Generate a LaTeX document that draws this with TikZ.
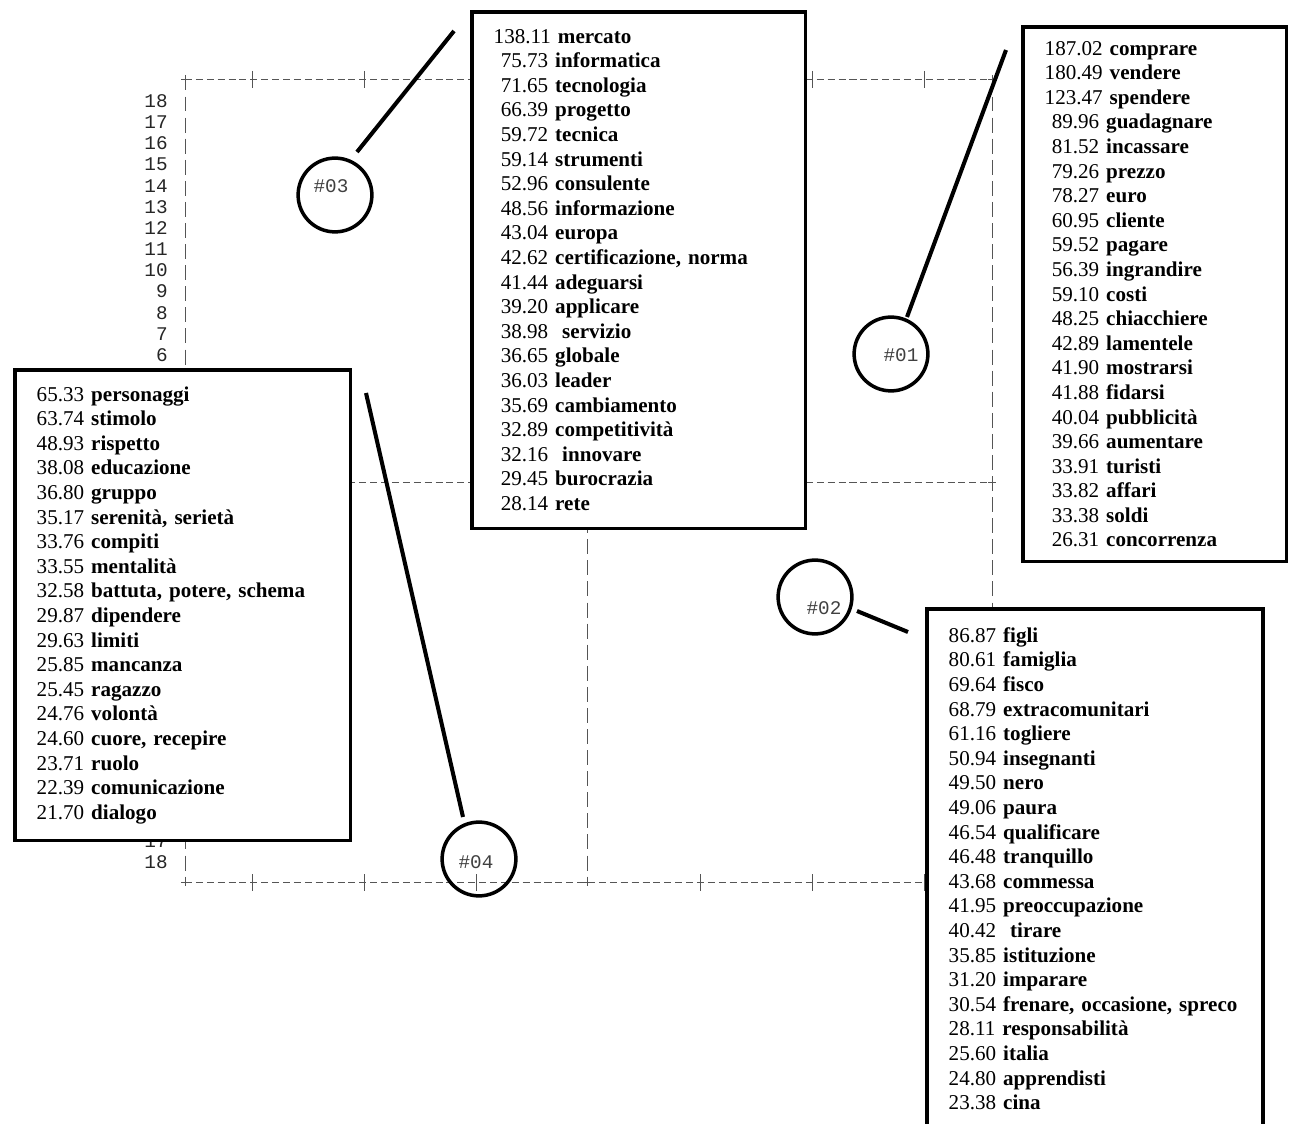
\documentclass[tikz,border=0pt]{standalone}
\usepackage{fontspec}
\setmainfont{Liberation Serif}
\setmonofont{Liberation Mono}
\usetikzlibrary{positioning}
\definecolor{ink} {HTML}{000000}
\definecolor{grid}{HTML}{555555}
\tikzset{
  listbox/.style    ={draw=ink, fill=white, line width=2pt, anchor=north west,
                      align=left, inner xsep=12.5pt, inner ysep=0pt,
                      font=\fontsize{12}{14}\selectfont},
  clustercirc/.style={draw=ink, circle, line width=2pt, minimum size=42pt, inner sep=0pt},
  clusterlab/.style ={font=\ttfamily\fontsize{11}{12}\selectfont, text=black!75, inner sep=0pt},
  ticklab/.style    ={font=\ttfamily\fontsize{11}{12}\selectfont, text=black!85,
                      anchor=east, inner sep=0pt},
  hgrid/.style      ={draw=grid, line width=0.5pt, dash pattern=on 4pt off 2.2pt},
  vgrid/.style      ={draw=grid, line width=0.5pt, dash pattern=on 8.5pt off 3.5pt, dash phase=2pt},
  gridtick/.style   ={draw=grid, line width=0.5pt},
  leadline/.style   ={draw=ink, line width=2.3pt},
}

\begin{document}
\begin{tikzpicture}[x=0.02cm,y=-0.02cm]
  \clip (0,0) rectangle (1291,1124);
  \fill[white] (0,0) rectangle (1291,1124);

  % dashed frame
  \draw[hgrid] (185,79) -- (992,79);
  \draw[hgrid] (185,482) -- (992,482);
  \draw[hgrid] (185,882) -- (992,882);
  \draw[vgrid] (185,79) -- (185,882);
  \draw[vgrid] (587,79) -- (587,882);
  \draw[vgrid] (992,79) -- (992,882);
  \foreach \gx in {252,364,476,700,812,924} {
    \draw[gridtick] (\gx,71) -- (\gx,88);
    \draw[gridtick] (\gx,874) -- (\gx,891);
  }
  \foreach \gx/\gy in {185/79,992/79,587/79,992/482,185/882,587/882,992/882} {
    \draw[gridtick] (\gx-4,\gy) -- (\gx+4,\gy) (\gx,\gy-4) -- (\gx,\gy+4);
  }

  % row numbers
  \foreach \n [evaluate=\n as \ty using 101+(18-\n)*21.17] in {18,17,...,6}
    \node[ticklab] (top\n) at (168,\ty) {\n};
  \node[ticklab] (bot17) at (168,841) {17};
  \node[ticklab] (bot18) at (168,862) {18};

  % word lists
  \node[listbox, text width=165pt, minimum height=294pt] (box3) at (470,10)
    {138.11 \textbf{mercato}\\
     \ 75.73 \textbf{informatica}\\
     \ 71.65 \textbf{tecnologia}\\
     \ 66.39 \textbf{progetto}\\
     \ 59.72 \textbf{tecnica}\\
     \ 59.14 \textbf{strumenti}\\
     \ 52.96 \textbf{consulente}\\
     \ 48.56 \textbf{informazione}\\
     \ 43.04 \textbf{europa}\\
     \ 42.62 \textbf{certificazione, norma}\\
     \ 41.44 \textbf{adeguarsi}\\
     \ 39.20 \textbf{applicare}\\
     \ 38.98 \ \textbf{servizio}\\
     \ 36.65 \textbf{globale}\\
     \ 36.03 \textbf{leader}\\
     \ 35.69 \textbf{cambiamento}\\
     \ 32.89 \textbf{competitività}\\
     \ 32.16 \ \textbf{innovare}\\
     \ 29.45 \textbf{burocrazia}\\
     \ 28.14 \textbf{rete}};
  \node[listbox, text width=125pt, minimum height=304.4pt] (box1) at (1021,25)
    {187.02 \textbf{comprare}\\
     180.49 \textbf{vendere}\\
     123.47 \textbf{spendere}\\
     \ 89.96 \textbf{guadagnare}\\
     \ 81.52 \textbf{incassare}\\
     \ 79.26 \textbf{prezzo}\\
     \ 78.27 \textbf{euro}\\
     \ 60.95 \textbf{cliente}\\
     \ 59.52 \textbf{pagare}\\
     \ 56.39 \textbf{ingrandire}\\
     \ 59.10 \textbf{costi}\\
     \ 48.25 \textbf{chiacchiere}\\
     \ 42.89 \textbf{lamentele}\\
     \ 41.90 \textbf{mostrarsi}\\
     \ 41.88 \textbf{fidarsi}\\
     \ 40.04 \textbf{pubblicità}\\
     \ 39.66 \textbf{aumentare}\\
     \ 33.91 \textbf{turisti}\\
     \ 33.82 \textbf{affari}\\
     \ 33.38 \textbf{soldi}\\
     \ 26.31 \textbf{concorrenza}};
  \node[listbox, text width=166pt, minimum height=268pt] (box4) at (13,368)
    {65.33 \textbf{personaggi}\\
     63.74 \textbf{stimolo}\\
     48.93 \textbf{rispetto}\\
     38.08 \textbf{educazione}\\
     36.80 \textbf{gruppo}\\
     35.17 \textbf{serenità, serietà}\\
     33.76 \textbf{compiti}\\
     33.55 \textbf{mentalità}\\
     32.58 \textbf{battuta, potere, schema}\\
     29.87 \textbf{dipendere}\\
     29.63 \textbf{limiti}\\
     25.85 \textbf{mancanza}\\
     25.45 \textbf{ragazzo}\\
     24.76 \textbf{volontà}\\
     24.60 \textbf{cuore, recepire}\\
     23.71 \textbf{ruolo}\\
     22.39 \textbf{comunicazione}\\
     21.70 \textbf{dialogo}};
  \node[listbox, text width=166.5pt, minimum height=296pt] (box2) at (925,607)
    {86.87 \textbf{figli}\\
     80.61 \textbf{famiglia}\\
     69.64 \textbf{fisco}\\
     68.79 \textbf{extracomunitari}\\
     61.16 \textbf{togliere}\\
     50.94 \textbf{insegnanti}\\
     49.50 \textbf{nero}\\
     49.06 \textbf{paura}\\
     46.54 \textbf{qualificare}\\
     46.48 \textbf{tranquillo}\\
     43.68 \textbf{commessa}\\
     41.95 \textbf{preoccupazione}\\
     40.42 \ \textbf{tirare}\\
     35.85 \textbf{istituzione}\\
     31.20 \textbf{imparare}\\
     30.54 \textbf{frenare, occasione, spreco}\\
     28.11 \textbf{responsabilità}\\
     25.60 \textbf{italia}\\
     24.80 \textbf{apprendisti}\\
     23.38 \textbf{cina}};

  % cluster circles
  \node[clustercirc] (circ3) at (335,195) {};
  \node[clustercirc] (circ1) at (891,354) {};
  \node[clustercirc] (circ2) at (815,597) {};
  \node[clustercirc] (circ4) at (479,859) {};
  \node[clusterlab] (lab3) at (331,186) {\#03};
  \node[clusterlab] (lab1) at (901,355) {\#01};
  \node[clusterlab] (lab2) at (824,608) {\#02};
  \node[clusterlab] (lab4) at (476,862) {\#04};

  % leader lines
  \coordinate (lead3a) at (357,152);  \coordinate (lead3b) at (454,31);
  \coordinate (lead1a) at (907,317);  \coordinate (lead1b) at (1006,50);
  \coordinate (lead2a) at (857,611);  \coordinate (lead2b) at (908,632);
  \coordinate (lead4a) at (366,393);  \coordinate (lead4b) at (463,817);
  \draw[leadline] (lead3a) -- (lead3b);
  \draw[leadline] (lead1a) -- (lead1b);
  \draw[leadline] (lead2a) -- (lead2b);
  \draw[leadline] (lead4a) -- (lead4b);
\end{tikzpicture}
\end{document}
